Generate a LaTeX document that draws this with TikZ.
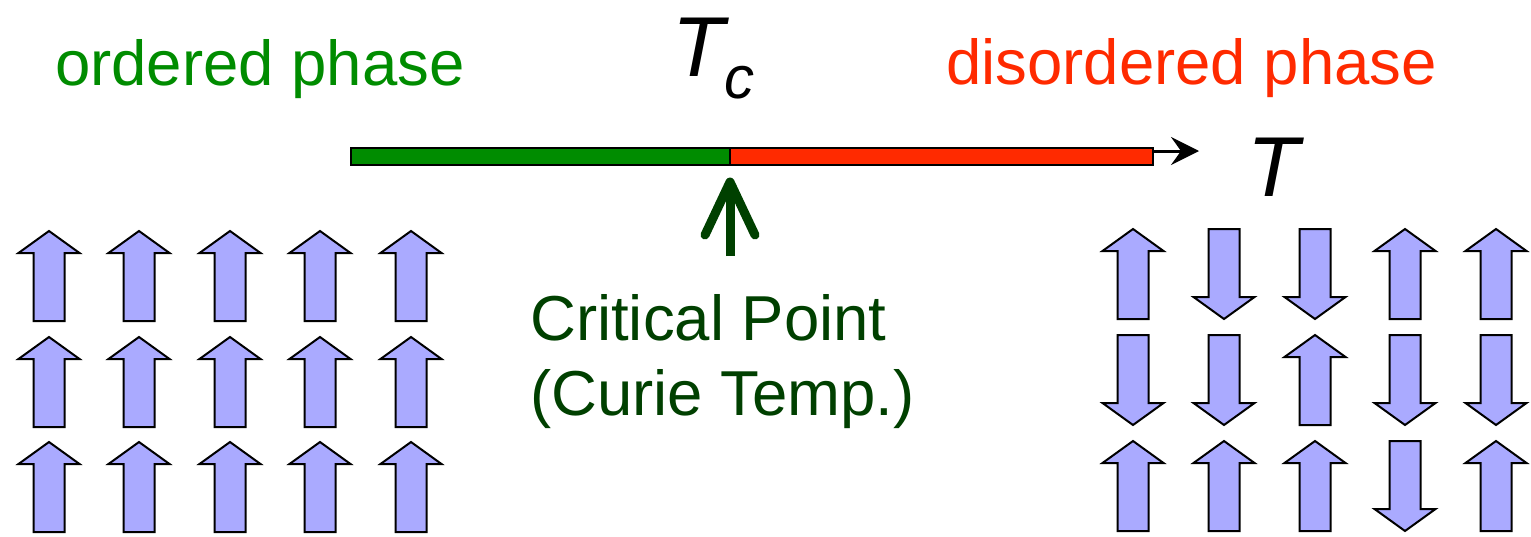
\documentclass[tikz,border=0pt]{standalone}
\usepackage{fontspec}
\setmainfont{Liberation Sans}
\usetikzlibrary{arrows.meta}
\definecolor{okgreen}{RGB}{0,140,0}
\definecolor{barred}{RGB}{255,42,0}
\definecolor{darkgreen}{RGB}{0,64,0}
\definecolor{spinfill}{RGB}{170,170,255}
\tikzset{
  spinshape/.style={draw=black,fill=spinfill,line width=2pt,line join=miter},
  spin/.pic={\path[spinshape] (0,-45) -- (30.5,-23) -- (15.5,-23) -- (15.5,45) -- (-15.5,45) -- (-15.5,-23) -- (-30.5,-23) -- cycle;},
  lbl/.style={inner sep=0pt,anchor=base west,font=\fontsize{63.5}{75}\selectfont},
  bigT/.style={inner sep=0pt,anchor=base west,font=\fontsize{85}{100}\selectfont\itshape},
  barpart/.style={draw=black,line width=2.5pt},
}
\begin{document}
\begin{tikzpicture}[x=1pt,y=-1pt]
\useasboundingbox (0,0) rectangle (1531,536);
% labels
\node[lbl,text=okgreen] (ord) at (55,85) {ordered phase};
\node[lbl,text=barred] (dis) at (946,84) {disordered phase};
\node[bigT] (tc) at (672,76) {T\raisebox{-22pt}{\fontsize{60}{70}\selectfont c}};
\node[bigT] (tt) at (1247,196) {T};
\node[lbl,text=darkgreen] (cp1) at (530,340) {Critical Point};
\node[lbl,text=darkgreen] (cp2) at (530,415) {(Curie Temp.)};
% bar
\path[barpart,fill=okgreen] (351,148) rectangle (730,165);
\path[barpart,fill=barred] (730,148) rectangle (1153,165);
\coordinate (axs) at (1153,151);
\coordinate (axe) at (1199,151);
\draw[line width=3pt,-{Stealth[length=28pt,width=28pt,inset=10pt]}] (axs) -- (axe);
% critical arrow
\coordinate (ctip) at (730,182);
\coordinate (cbot) at (730,256);
\draw[darkgreen,line width=9pt] (cbot) -- (ctip);
\draw[darkgreen,line width=9pt,line cap=round,line join=round] (705,235) -- (ctip) -- (755,235);
% ordered spins
\foreach \x in {49,139,230,320,411}{
  \foreach \y in {276,382,487}{
    \pic at (\x,\y) {spin};
  }
}
% disordered spins: 1 = up, -1 = down
\foreach \x/\a/\b/\c in {1133/1/-1/1, 1224/-1/-1/1, 1315/-1/1/1, 1405/1/-1/-1, 1496/1/-1/1}{
  \pic[yscale=\a] at (\x,274) {spin};
  \pic[yscale=\b] at (\x,380) {spin};
  \pic[yscale=\c] at (\x,486) {spin};
}
\end{tikzpicture}
\end{document}
